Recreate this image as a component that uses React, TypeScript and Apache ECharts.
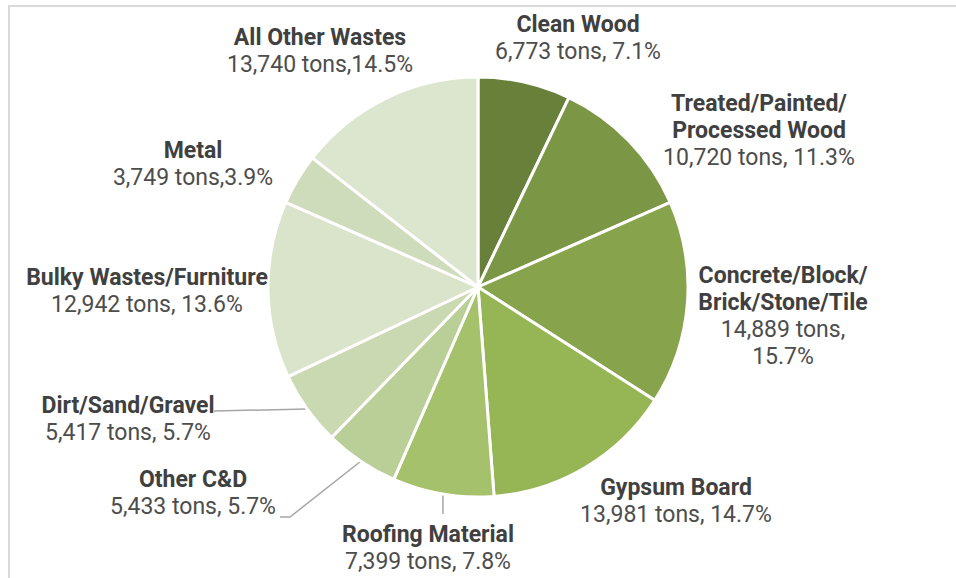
import { useEffect, useRef } from "react";
import * as echarts from "echarts";

const categories = [
  "Clean Wood",
  "Treated/Painted/\nProcessed Wood",
  "Concrete/Block/\nBrick/Stone/Tile",
  "Gypsum Board",
  "Roofing Material",
  "Other C&D",
  "Dirt/Sand/Gravel",
  "Bulky Wastes/Furniture",
  "Metal",
  "All Other Wastes",
];
const tons = [6773, 10720, 14889, 13981, 7399, 5433, 5417, 12942, 3749, 13740];
const separators = [", ", ", ", ",\n", ", ", ", ", ", ", ", ", ", ", ",", ","];
const colors = [
  "#68803a",
  "#7b9645",
  "#87a44c",
  "#96b555",
  "#a6c16c",
  "#b9cf97",
  "#cad9b2",
  "#d9e4ca",
  "#cfdcbb",
  "#dce6cf",
];

// layout (label centers & leader line bends)
const labelCenters: [number, number][] = [
  [578, 38],
  [759, 130],
  [783, 316],
  [676, 501],
  [428, 548],
  [193, 493],
  [128, 419],
  [147, 291],
  [193, 164],
  [320, 51],
];
const leaderBends: (number[][] | null)[] = [
  null,
  null,
  null,
  null,
  [[443, 514]],
  [[290, 517], [280, 517]],
  [[214, 411]],
  null,
  null,
  null,
];

const FONT = "Roboto, 'Noto Sans', sans-serif";

export default function App() {
  const ref = useRef<HTMLDivElement>(null);
  useEffect(() => {
    if (!ref.current) return;
    const chart = echarts.init(ref.current, undefined, { renderer: "svg" });
    const cx = 478;
    const cy = 287;
    const r = 210;
    const total = tons.reduce((a, b) => a + b, 0);
    const midPoint = (i: number) => {
      let before = 0;
      for (let k = 0; k < i; k++) before += tons[k];
      const ang = ((before + tons[i] / 2) / total) * Math.PI * 2;
      return [cx + r * Math.sin(ang), cy - r * Math.cos(ang)];
    };
    chart.setOption({
      animation: false,
      backgroundColor: "#ffffff",
      graphic: [
        { type: "line", shape: { x1: 9, y1: 6, x2: 9, y2: 578 }, style: { stroke: "#d9d9d9", lineWidth: 2 } },
        { type: "line", shape: { x1: 8, y1: 6, x2: 956, y2: 6 }, style: { stroke: "#d9d9d9", lineWidth: 2 } },
      ],
      series: [
        {
          type: "pie",
          center: [cx, cy],
          radius: r,
          startAngle: 90,
          clockwise: true,
          avoidLabelOverlap: false,
          percentPrecision: 1,
          itemStyle: { borderColor: "#ffffff", borderWidth: 3 },
          emphasis: { disabled: true },
          labelLine: {
            show: true,
            length: 10,
            length2: 10,
            lineStyle: { color: "#a6a6a6", width: 1.5 },
          },
          label: {
            show: true,
            position: "outside",
            formatter: (p: any) => {
              const i = p.dataIndex;
              const nameLines = categories[i].split("\n").map((s) => `{b|${s}}`);
              const val =
                tons[i].toLocaleString("en-US") + " tons" + separators[i] + p.percent.toFixed(1) + "%";
              const valLines = val.split("\n").map((s) => `{v|${s}}`);
              return [...nameLines, ...valLines].join("\n");
            },
            rich: {
              b: {
                fontFamily: FONT,
                fontSize: 23,
                fontWeight: "bold",
                color: "#404040",
                lineHeight: 27,
                align: "center",
              },
              v: {
                fontFamily: FONT,
                fontSize: 23,
                color: "#4d4d4d",
                lineHeight: 27,
                align: "center",
              },
            },
          },
          labelLayout: (params: any) => {
            const i = params.dataIndex;
            const [x, y] = labelCenters[i];
            const res: any = { x, y, align: "center", verticalAlign: "middle" };
            const bends = leaderBends[i];
            if (bends) {
              const start = midPoint(i);
              res.labelLinePoints = [start, ...bends];
            }
            return res;
          },
          data: categories.map((name, i) => ({
            name,
            value: tons[i],
            itemStyle: { color: colors[i] },
            labelLine: { show: leaderBends[i] != null },
          })),
        },
      ],
    });
    return () => chart.dispose();
  }, []);
  return (
    <div
      ref={ref}
      style={{ position: "fixed", left: 0, top: 0, width: 956, height: 578, background: "#fff" }}
    />
  );
}
